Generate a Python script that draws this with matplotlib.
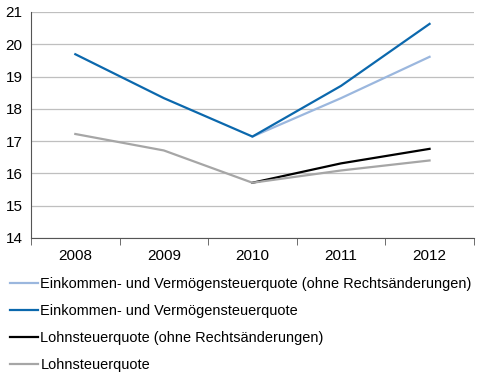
import matplotlib
matplotlib.use("Agg")
import matplotlib.pyplot as plt
import numpy as np

# data
years = ["2008", "2009", "2010", "2011", "2012"]
ekst_ohne = [np.nan, np.nan, 17.14, 18.33, 19.61]
ekst = [19.69, 18.33, 17.14, 18.71, 20.63]
lohn_ohne = [np.nan, np.nan, 15.71, 16.31, 16.76]
lohn = [17.22, 16.71, 15.71, 16.09, 16.40]

labels = [
    "Einkommen- und Vermögensteuerquote (ohne Rechtsänderungen)",
    "Einkommen- und Vermögensteuerquote",
    "Lohnsteuerquote (ohne Rechtsänderungen)",
    "Lohnsteuerquote",
]
colors = ["#9bb7de", "#0b68ad", "#000000", "#a6a6a6"]

plt.rcParams['font.family'] = ['Liberation Sans', 'DejaVu Sans']
plt.rcParams['font.size'] = 11

fig = plt.figure(figsize=(4.85, 3.73), dpi=100)
ax = fig.add_axes([0.064, 0.362, 0.913, 0.606])

x = np.arange(len(years))
for series, c, lab in zip([ekst_ohne, ekst, lohn_ohne, lohn], colors, labels):
    ax.plot(x, series, color=c, lw=1.6, label=lab)

ax.set_xlim(-0.5, len(years) - 0.5)
ax.set_ylim(14, 21)
ax.set_yticks(range(14, 22))
ax.set_xticks(x)
ax.set_xticklabels(years)
ax.set_xticks(np.arange(-0.5, len(years), 1), minor=True)
ax.tick_params(axis='x', which='major', length=0, pad=8)
ax.tick_params(axis='x', which='minor', length=5, color='#555555', direction='out')
ax.tick_params(axis='y', length=0, pad=6)

ax.yaxis.grid(True, color='#bfbfbf', lw=0.9)
ax.set_axisbelow(True)
for s in ['top', 'right']:
    ax.spines[s].set_visible(False)
ax.spines['left'].set_color('#555555')
ax.spines['bottom'].set_color('#555555')

handles, labs = ax.get_legend_handles_labels()
fig.legend(handles, labs, loc='upper left', bbox_to_anchor=(10 / 485, 1 - 277 / 373),
           frameon=False, prop={'size': 10.45}, handlelength=1.9, handletextpad=0.2,
           labelspacing=0.9, borderaxespad=0, borderpad=0)

fig.savefig("out.png", dpi=100)
